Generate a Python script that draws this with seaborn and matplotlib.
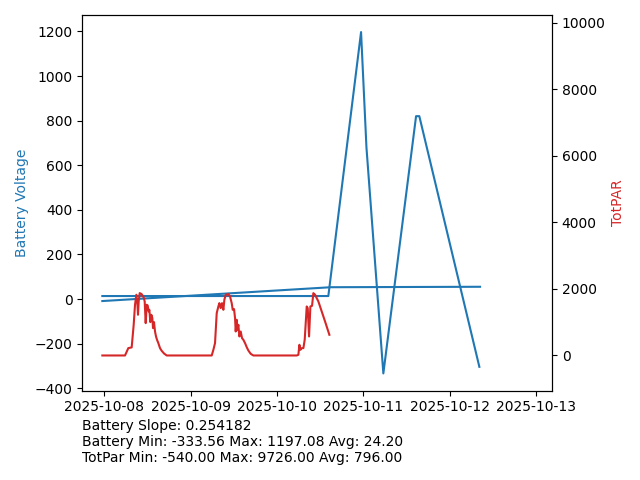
import matplotlib
matplotlib.use("Agg")
import matplotlib.pyplot as plt
import matplotlib.dates as mdates
import seaborn as sns
import numpy as np
import pandas as pd

# ---- data (hours since 2025-10-08 00:00) ----
base_time = pd.Timestamp("2025-10-08 00:00")

# Battery voltage: two traces drawn in the same colour
batt_seg = [0, 0, 0, 0, 0, 0, 0, 0, 1, 1, 1]
batt_hours = [-0.55, 62.3, 71.4, 72.9, 77.6, 86.7, 87.6, 104.3, -0.55, 63.0, 104.5]
batt_values = [13.5, 13.5, 1197.08, 680.0, -333.56, 820.0, 820.0, -304.0, -9.0, 53.0, 55.0]

# TotPAR
par_hours = [-0.55, 5.76, 6.68, 7.61, 8.17, 8.54, 8.91, 9.19, 9.37, 9.56, 9.84, 10.39,
             10.95, 11.23, 11.51, 11.79, 12.06, 12.34, 12.53, 12.80, 13.08, 13.36, 13.55,
             13.82, 14.10, 14.38, 14.66, 15.03, 15.49, 15.96, 16.61, 17.35,
             29.87, 30.33, 30.79, 31.26, 31.72, 32.00, 32.37, 32.74, 33.11, 33.39, 33.76,
             34.50, 34.96, 35.43, 35.71, 36.08, 36.36, 36.54, 36.82, 37.00, 37.28, 37.56,
             37.93, 38.30, 38.67, 39.14, 39.60, 40.06, 40.71, 41.45,
             53.51, 53.97, 54.25, 54.53, 54.90, 55.36, 55.73, 56.29, 56.57, 56.94, 57.31,
             57.77, 58.14, 58.61, 59.53, 60.46, 61.39, 62.59]
par_values = [0, 0, 222, 242, 923, 1525, 1826, 1575, 1224, 1625, 1876, 1845,
              1745, 1625, 973, 1525, 1504, 1324, 1374, 1003, 1224, 1124, 823,
              1003, 722, 572, 472, 371, 221, 140, 60, 0,
              0, 170, 371, 1274, 1474, 1574, 1424, 1574, 1374, 1675, 1825,
              1845, 1775, 1574, 1374, 1394, 1124, 722, 1073, 772, 923, 572,
              722, 521, 472, 371, 251, 150, 50, 0,
              0, 20, 321, 170, 221, 221, 472, 1474, 1424, 572, 1474,
              1494, 1875, 1825, 1625, 1324, 1023, 622]

stats_text = ("Battery Slope: 0.254182\n"
              "Battery Min: -333.56 Max: 1197.08 Avg: 24.20\n"
              "TotPar Min: -540.00 Max: 9726.00 Avg: 796.00")

batt_df = pd.DataFrame({
    "time": base_time + pd.to_timedelta(batt_hours, unit="h"),
    "value": batt_values,
    "seg": batt_seg,
})
par_df = pd.DataFrame({
    "time": base_time + pd.to_timedelta(par_hours, unit="h"),
    "value": par_values,
})

fig, ax = plt.subplots(figsize=(6.4, 4.8), dpi=100)
fig.subplots_adjust(left=82.3 / 640, right=552 / 640, top=1 - 15 / 480, bottom=1 - 390.5 / 480)

sns.lineplot(data=batt_df, x="time", y="value", units="seg", estimator=None,
             sort=False, color="tab:blue", ax=ax)
ax2 = ax.twinx()
sns.lineplot(data=par_df, x="time", y="value", sort=False, color="tab:red", ax=ax2)

ax.set_xlim(base_time + pd.Timedelta(hours=-6.12), base_time + pd.Timedelta(hours=124.5))
ax.set_ylim(-410.09, 1273.61)
ax2.set_ylim(-1053.3, 10239.3)

ax.set_xlabel("")
ax.set_ylabel("Battery Voltage", color="tab:blue")
ax2.set_ylabel("TotPAR", color="tab:red")

ax.xaxis.set_major_locator(mdates.DayLocator())
ax.xaxis.set_major_formatter(mdates.DateFormatter("%Y-%m-%d"))

fig.text(82 / 640, 1 - 419 / 480, stats_text, ha="left", va="top", fontsize=10)

fig.savefig("out.png", dpi=100)
